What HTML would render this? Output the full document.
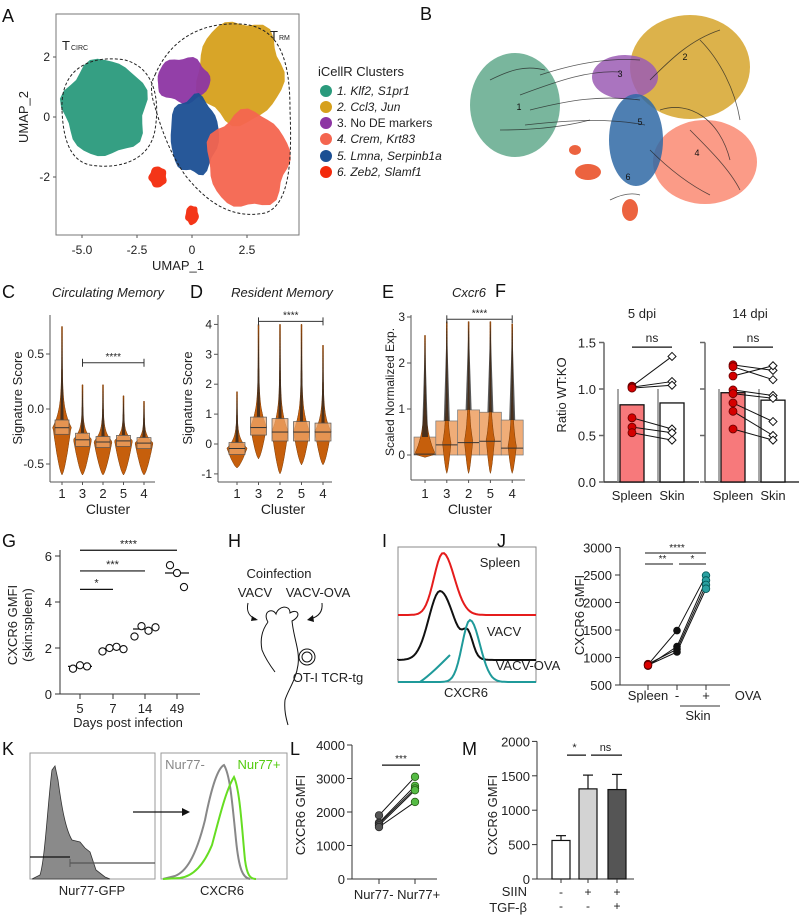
<!DOCTYPE html>
<html><head><meta charset="utf-8"><style>
html,body{margin:0;padding:0;background:#fff;}
svg{display:block;font-family:"Liberation Sans",sans-serif;}
</style></head><body>
<svg id="fig" width="799" height="917" viewBox="0 0 799 917" xmlns="http://www.w3.org/2000/svg"></svg>
<script>
// ---------- DATA ----------
const umapNames=['1. Klf2, S1pr1','2. Ccl3, Jun','3. No DE markers','4. Crem, Krt83','5. Lmna, Serpinb1a','6. Zeb2, Slamf1'];
const umapColors=['#2a9a7c','#d6a01c','#8d35a3','#f4654f','#1b4f93','#f32a0c'];
const blobCluster=[1,2,4,3,0,5,5];
const blobCx=[2.18,-0.4,0.1,2.55,-3.95,-1.55,0.0];
const blobCy=[1.5,1.23,-0.6,-1.43,0.3,-2.0,-3.27];
const blobRx=[1.95,1.2,1.1,1.85,1.9,0.4,0.3];
const blobRy=[1.7,0.75,1.3,1.6,1.6,0.35,0.32];
const umapXTicks=[-5,-2.5,0,2.5];
const umapXLabels=['-5.0','-2.5','0','2.5'];
const umapYTicks=[2,0,-2];
const clusters=['1','3','2','5','4'];
const cMin=[-0.6,-0.6,-0.6,-0.6,-0.6];
const cMax=[0.75,0.22,0.22,0.12,0.07];
const cQ1=[-0.23,-0.34,-0.35,-0.34,-0.36];
const cMed=[-0.17,-0.28,-0.30,-0.29,-0.31];
const cQ3=[-0.10,-0.22,-0.25,-0.24,-0.26];
const cTicks=[0.5,0.0,-0.5];
const cTickLabels=['0.5','0.0','-0.5'];
const dMin=[-0.8,-0.5,-1.0,-0.7,-0.7];
const dMax=[1.75,4.0,4.0,4.0,3.3];
const dQ1=[-0.35,0.3,0.1,0.1,0.1];
const dMed=[-0.15,0.55,0.4,0.4,0.4];
const dQ3=[0.05,0.9,0.85,0.75,0.7];
const dTicks=[4,3,2,1,0,-1];
const eMin=[-0.05,-0.4,-0.4,-0.4,-0.4];
const eMax=[2.6,2.9,2.9,2.9,2.85];
const eMed=[0.02,0.22,0.27,0.3,0.15];
const eQ3=[0.39,0.74,0.98,0.93,0.76];
const eTicks=[3,2,1,0];
const fGroups=['Spleen','Skin'];
const fBar5=[0.83,0.85];
const fBar14=[0.96,0.88];
const fSpleen5=[1.03,1.02,1.01,0.69,0.59,0.53];
const fSkin5=[1.35,1.08,1.04,0.57,0.53,0.45];
const fSpleen14=[1.26,1.24,1.14,0.99,0.95,0.85,0.76,0.57];
const fSkin14=[1.20,1.10,1.25,0.93,0.90,0.65,0.50,0.45];
const fTicks=[1.5,1.0,0.5,0.0];
const fTickLabels=['1.5','1.0','0.5','0.0'];
const gDays=['5','7','14','49'];
const gValues=[[1.1,1.25,1.2],[1.85,2.0,2.05,1.95],[2.5,2.95,2.75,2.9],[5.6,5.26,4.65]];
const gTicks=[6,4,2,0];
const jGroups=['Spleen','-','+'];
const jSpleen=[870,850,880,860];
const jSkinNeg=[1490,1200,1150,1100];
const jSkinPos=[2490,2400,2320,2250];
const jTicks=[3000,2500,2000,1500,1000,500];
const lGroups=['Nur77-','Nur77+'];
const lNeg=[1900,1680,1650,1600,1550];
const lPos=[3050,2780,2700,2650,2300];
const lTicks=[4000,3000,2000,1000,0];
const mBars=[560,1310,1300];
const mErr=[630,1510,1520];
const mTicks=[2000,1500,1000,500,0];
const mSiin=['-','+','+'];
const mTgf=['-','-','+'];

// ---------- HELPERS ----------
const NS='http://www.w3.org/2000/svg';
const svg=document.getElementById('fig');
function mk(tag,attrs,name,parent){
  const el=document.createElementNS(NS,tag);
  for(const k in attrs) el.setAttribute(k,attrs[k]);
  
  
  (parent||svg).appendChild(el);
  return el;
}
function txt(x,y,s,name,o){
  o=o||{};
  const a={x:x,y:y,'font-size':o.size||12,'text-anchor':o.anchor||'middle',fill:o.fill||'#222'};
  if(o.style) a['font-style']=o.style;
  if(o.rot!==undefined) a.transform='rotate('+o.rot+' '+x+' '+y+')';
  const el=mk('text',a,name);
  el.textContent=s;
  return el;
}
function line(x1,y1,x2,y2,name,stroke,w,dash){
  const a={x1:x1,y1:y1,x2:x2,y2:y2,stroke:stroke||'#333','stroke-width':w||1};
  if(dash) a['stroke-dasharray']=dash;
  return mk('line',a,name);
}
function pathD(d,name,attrs){
  const a=Object.assign({d:d},attrs||{});
  return mk('path',a,name);
}
function letter(x,y,s){ txt(x,y,s,'panel-label-'+s.toLowerCase(),{size:18,anchor:'start',fill:'#111'}); }

// ---------- PANEL A ----------
letter(2,22,'A');
const xA=u=>192+u*22, yA=v=>117-v*30;
mk('rect',{x:56,y:14,width:243,height:221,fill:'none',stroke:'#777','stroke-width':1},'umap-plot-frame');
for(let i=0;i<blobCx.length;i++){
  const c=blobCluster[i];
  const cx=xA(blobCx[i]), cy=yA(blobCy[i]), rx=blobRx[i]*22, ry=blobRy[i]*30;
  let d='';
  for(let k=0;k<=36;k++){
    const t=k/36*Math.PI*2;
    const wob=1+0.06*Math.sin(t*5+i)+0.04*Math.cos(t*7+i*2);
    d+=(k?'L':'M')+(cx+Math.cos(t)*rx*wob).toFixed(1)+','+(cy+Math.sin(t)*ry*wob).toFixed(1);
  }
  pathD(d+'Z','umap-cluster-'+(c+1),{fill:umapColors[c],opacity:0.95});
}
pathD('M62,110 C60,65 95,55 125,60 C155,68 160,100 155,130 C150,160 120,170 90,165 C68,160 63,135 62,110Z','tcirc-outline',{fill:'none',stroke:'#222','stroke-dasharray':'3,2','stroke-width':1});
pathD('M155,75 C170,40 200,22 240,24 C280,26 290,60 290,110 C292,160 290,205 265,213 C230,220 205,200 185,175 C168,150 160,125 153,100 C150,88 152,80 155,75Z','trm-outline',{fill:'none',stroke:'#222','stroke-dasharray':'3,2','stroke-width':1});
txt(62,50,'T','tcirc-label',{size:13,anchor:'start'});
txt(71,50,'CIRC','tcirc-subscript',{size:7,anchor:'start'});
txt(270,40,'T','trm-label',{size:13,anchor:'start'});
txt(279,40,'RM','trm-subscript',{size:7,anchor:'start'});
umapXTicks.forEach((t,i)=>{ line(xA(t),235,xA(t),238,'umap-x-tick','#555'); txt(xA(t),254,umapXLabels[i],'umap-x-tick-label',{size:12}); });
umapYTicks.forEach(t=>{ line(53,yA(t),56,yA(t),'umap-y-tick','#555'); txt(50,yA(t)+4,String(t),'umap-y-tick-label',{size:12,anchor:'end'}); });
txt(178,270,'UMAP_1','umap-x-axis-title',{size:13});
txt(28,117,'UMAP_2','umap-y-axis-title',{size:13,rot:-90});
txt(318,76,'iCellR Clusters','legend-title',{size:13,anchor:'start'});
const legY=[91,107,123,139,156,172];
umapNames.forEach((n,i)=>{
  mk('circle',{cx:326,cy:legY[i],r:6,fill:umapColors[i]},'legend-swatch-'+(i+1));
  const t=txt(337,legY[i]+4,n,'legend-entry-'+(i+1),{size:12,anchor:'start'});
  if(i!==2) t.setAttribute('font-style','italic');
});

// ---------- PANEL B ----------
letter(420,20,'B');
const bColors=['#62a98c','#d6a52c','#9b5cb4','#fa8a72','#2f69a5','#e9481d'];
const bBlobs=[[515,105,45,52,0],[690,67,60,52,1],[625,77,33,22,2],[705,162,52,42,3],[636,140,27,46,4],[588,172,13,8,5],[630,210,8,11,5],[575,150,6,5,5]];
bBlobs.forEach((b,i)=>{
  mk('ellipse',{cx:b[0],cy:b[1],rx:b[2],ry:b[3],fill:bColors[b[4]],opacity:0.85},'velocity-cluster-'+(b[4]+1));
});
const streams=['M520,95 C560,80 590,70 620,72','M530,110 C570,100 600,95 640,100','M525,125 C570,120 610,118 645,125','M540,75 C580,62 610,58 640,60','M650,80 C670,60 690,40 720,30','M660,110 C690,100 720,120 730,160','M690,130 C710,150 730,170 740,190','M650,150 C670,170 690,185 710,195','M700,40 C720,60 735,90 740,120','M490,80 C510,70 525,65 545,70','M500,130 C530,130 560,128 590,120','M610,200 C620,195 630,192 640,195'];
streams.forEach((d,i)=>{ pathD(d,'velocity-streamline',{fill:'none',stroke:'#222','stroke-width':0.8,opacity:0.75}); });
['1','3','2','5','4','6'].forEach((s,i)=>{
  const p=[[519,110],[620,77],[685,60],[640,125],[697,156],[628,180]][i];
  txt(p[0],p[1],s,'velocity-cluster-label',{size:9,fill:'#111'});
});

// ---------- VIOLIN HELPER ----------
function violin(cx,ys,vmin,vmax,q1,med,q3,hw,name,dotsHw){
  let left=[],right=[];
  const N=50;
  for(let k=0;k<=N;k++){
    const v=vmin+(vmax-vmin)*k/N;
    let w;
    if(v<=med){ const t=(v-vmin)/Math.max(1e-6,med-vmin); w=hw*Math.pow(t,0.7); }
    else { const t=(vmax-v)/Math.max(1e-6,vmax-med); w=hw*Math.pow(t,6)+0.5; }
    left.push([cx-w,ys(v)]); right.push([cx+w,ys(v)]);
  }
  let d='M'+left.map(p=>p[0].toFixed(1)+','+p[1].toFixed(1)).join('L')+'L'+right.reverse().map(p=>p[0].toFixed(1)+','+p[1].toFixed(1)).join('L')+'Z';
  pathD(d,name+'-violin',{fill:'#c65f0c',stroke:'#7a3a05','stroke-width':0.5});
  const dh=dotsHw||1.6;
  pathD('M'+(cx-dh)+','+ys(q3)+'L'+cx+','+ys(vmax)+'L'+(cx+dh)+','+ys(q3)+'Z',name+'-points',{fill:'#222',opacity:0.75});
}

// ---------- PANEL C ----------
letter(2,298,'C');
txt(108,297,'Circulating Memory','c-title',{size:13,style:'italic'});
const yC=v=>409-v*110, xC=i=>62+i*20.5;
line(50,315,50,482,'c-y-axis','#555'); line(50,482,155,482,'c-x-axis','#555');
cTicks.forEach((t,i)=>{ line(46,yC(t),50,yC(t),'c-y-tick','#555'); txt(44,yC(t)+4,cTickLabels[i],'c-y-tick-label',{size:12,anchor:'end'}); });
clusters.forEach((c,i)=>{
  violin(xC(i),yC,cMin[i],cMax[i],cQ1[i],cMed[i],cQ3[i],9,'c-cluster-'+c);
  mk('rect',{x:xC(i)-7,y:yC(cQ3[i]),width:14,height:yC(cQ1[i])-yC(cQ3[i]),fill:'#efa56a','fill-opacity':0.75,stroke:'#555','stroke-width':0.7},'c-box-'+c);
  line(xC(i)-7,yC(cMed[i]),xC(i)+7,yC(cMed[i]),'c-median-'+c,'#333',1);
  line(xC(i),482,xC(i),485,'c-x-tick','#555');
  txt(xC(i),498,c,'c-x-tick-label',{size:13});
});
txt(108,514,'Cluster','c-x-axis-title',{size:14});
txt(22,398,'Signature Score','c-y-axis-title',{size:13,rot:-90});
line(xC(1),yC(0.42),xC(4),yC(0.42),'c-significance-bar','#333');
line(xC(1),yC(0.42)-4,xC(1),yC(0.42)+4,'c-sig-cap','#333'); line(xC(4),yC(0.42)-4,xC(4),yC(0.42)+4,'c-sig-cap','#333');
txt((xC(1)+xC(4))/2,yC(0.42)-3,'****','c-significance-label',{size:10});

// ---------- PANEL D ----------
letter(190,298,'D');
txt(282,297,'Resident Memory','d-title',{size:13,style:'italic'});
const yD=v=>444-v*29.9, xD=i=>237+i*21.5;
line(218,315,218,482,'d-y-axis','#555'); line(218,482,332,482,'d-x-axis','#555');
dTicks.forEach(t=>{ line(214,yD(t),218,yD(t),'d-y-tick','#555'); txt(212,yD(t)+4,String(t),'d-y-tick-label',{size:12,anchor:'end'}); });
clusters.forEach((c,i)=>{
  violin(xD(i),yD,dMin[i],dMax[i],dQ1[i],dMed[i],dQ3[i],i===0?10:8,'d-cluster-'+c);
  mk('rect',{x:xD(i)-8,y:yD(dQ3[i]),width:16,height:yD(dQ1[i])-yD(dQ3[i]),fill:'#efa56a','fill-opacity':0.75,stroke:'#555','stroke-width':0.7},'d-box-'+c);
  line(xD(i)-8,yD(dMed[i]),xD(i)+8,yD(dMed[i]),'d-median-'+c,'#333',1);
  line(xD(i),482,xD(i),485,'d-x-tick','#555');
  txt(xD(i),498,c,'d-x-tick-label',{size:13});
});
txt(283,514,'Cluster','d-x-axis-title',{size:14});
txt(192,398,'Signature Score','d-y-axis-title',{size:13,rot:-90});
line(xD(1),yD(4.1),xD(4),yD(4.1),'d-significance-bar','#333');
line(xD(1),yD(4.1)-4,xD(1),yD(4.1)+4,'d-sig-cap','#333'); line(xD(4),yD(4.1)-4,xD(4),yD(4.1)+4,'d-sig-cap','#333');
txt((xD(1)+xD(4))/2,yD(4.1)-3,'****','d-significance-label',{size:10});

// ---------- PANEL E ----------
letter(382,298,'E');
txt(469,297,'Cxcr6','e-title',{size:13,style:'italic'});
const yE=v=>455-v*46, xE=i=>425+i*21.8;
line(411,315,411,480,'e-y-axis','#555'); line(411,480,525,480,'e-x-axis','#555');
eTicks.forEach(t=>{ line(407,yE(t),411,yE(t),'e-y-tick','#555'); txt(405,yE(t)+4,String(t),'e-y-tick-label',{size:12,anchor:'end'}); });
clusters.forEach((c,i)=>{
  mk('rect',{x:xE(i)-11,y:yE(eQ3[i]),width:22,height:yE(0)-yE(eQ3[i]),fill:'#f0ad78',stroke:'#777','stroke-width':0.7},'e-box-'+c);
  violin(xE(i),yE,eMin[i],eMax[i],0,eMed[i],eQ3[i],i===0?10:4,'e-cluster-'+c,3);
  line(xE(i)-11,yE(eMed[i]),xE(i)+11,yE(eMed[i]),'e-median-'+c,'#333',1);
  line(xE(i),480,xE(i),483,'e-x-tick','#555');
  txt(xE(i),498,c,'e-x-tick-label',{size:13});
});
txt(470,514,'Cluster','e-x-axis-title',{size:14});
txt(394,392,'Scaled Normalized Exp.','e-y-axis-title',{size:12,rot:-90});
line(xE(1),yE(2.95),xE(4),yE(2.95),'e-significance-bar','#333');
line(xE(1),yE(2.95)-4,xE(1),yE(2.95)+4,'e-sig-cap','#333'); line(xE(4),yE(2.95)-4,xE(4),yE(2.95)+4,'e-sig-cap','#333');
txt((xE(1)+xE(4))/2,yE(2.95)-3,'****','e-significance-label',{size:10});

// ---------- PANEL F ----------
letter(495,297,'F');
const yF=v=>482-v*93;
function fPanel(ax,bars,sp,sk,label,title,tx){
  const xs=[ax+28,ax+68];
  line(ax,yF(1.5),ax,yF(0),label+'-y-axis','#666',1.5);
  line(ax,yF(0),ax+95,yF(0),label+'-x-axis','#333',1.5);
  fTicks.forEach((t,i)=>{ line(ax-5,yF(t),ax,yF(t),label+'-y-tick','#666',1.5); });
  bars.forEach((b,i)=>{
    mk('rect',{x:xs[i]-12,y:yF(b),width:24,height:yF(0)-yF(b),fill:i===0?'#f7797b':'#fff',stroke:'#111','stroke-width':1.3},label+'-bar-'+fGroups[i].toLowerCase());
    txt(xs[i],500,fGroups[i],label+'-x-tick-label',{size:13});
  });
  line(ax+14,yF(0),ax+14,yF(1.0),label+'-gray-edge','#888',1.5);
  line(ax+54,yF(0),ax+54,yF(1.0),label+'-gray-edge','#888',1.5);
  sp.forEach((v,i)=>{ line(xs[0],yF(v),xs[1],yF(sk[i]),label+'-pair-line','#111',1); });
  sp.forEach(v=>{ mk('circle',{cx:xs[0],cy:yF(v),r:4,fill:'#d40000',stroke:'#600','stroke-width':0.8},label+'-spleen-point'); });
  sk.forEach(v=>{ const cx=xs[1],cy=yF(v); mk('path',{d:'M'+cx+','+(cy-4)+'L'+(cx+4)+','+cy+'L'+cx+','+(cy+4)+'L'+(cx-4)+','+cy+'Z',fill:'#fff',stroke:'#111','stroke-width':1},label+'-skin-point'); });
  line(xs[0],yF(1.45),xs[1],yF(1.45),label+'-significance-bar','#111',1.2);
  txt((xs[0]+xs[1])/2,yF(1.45)-5,'ns',label+'-significance-label',{size:12});
  txt(tx,318,title,label+'-title',{size:13});
}
fPanel(604,fBar5,fSpleen5,fSkin5,'f-5dpi','5 dpi',642);
fPanel(705,fBar14,fSpleen14,fSkin14,'f-14dpi','14 dpi',750);
fTicks.forEach((t,i)=>{ txt(596,yF(t)+5,fTickLabels[i],'f-y-tick-label',{size:13,anchor:'end'}); });
txt(566,395,'Ratio WT:KO','f-y-axis-title',{size:13,rot:-90});

// ---------- PANEL G ----------
letter(2,547,'G');
const yG=v=>694-v*23, xGpos=[80,113,145,177];
line(60,550,60,694,'g-y-axis','#333'); line(60,694,200,694,'g-x-axis','#333');
gTicks.forEach(t=>{ line(55,yG(t),60,yG(t),'g-y-tick','#333'); txt(52,yG(t)+5,String(t),'g-y-tick-label',{size:13,anchor:'end'}); });
gDays.forEach((d,i)=>{
  line(xGpos[i],694,xGpos[i],699,'g-x-tick','#333');
  txt(xGpos[i],713,d,'g-x-tick-label',{size:13});
  const vals=gValues[i]; const n=vals.length;
  const sorted=vals.slice().sort((a,b)=>a-b); const med=n%2?sorted[(n-1)/2]:(sorted[n/2-1]+sorted[n/2])/2;
  line(xGpos[i]-12,yG(med),xGpos[i]+12,yG(med),'g-median-'+d,'#111',1.2);
  vals.forEach((v,k)=>{ mk('circle',{cx:xGpos[i]+(k-(n-1)/2)*7,cy:yG(v),r:3.6,fill:'#fff',stroke:'#111','stroke-width':1.1},'g-point-day'+d); });
});
[[1,4.55,'*'],[2,5.35,'***'],[3,6.25,'****']].forEach(s=>{
  line(xGpos[0],yG(s[1]),xGpos[s[0]],yG(s[1]),'g-significance-bar','#111',1.2);
  txt((xGpos[0]+xGpos[s[0]])/2,yG(s[1])-3,s[2],'g-significance-label',{size:11});
});
txt(128,727,'Days post infection','g-x-axis-title',{size:13});
txt(17,625,'CXCR6 GMFI','g-y-axis-title',{size:13,rot:-90});
txt(32,625,'(skin:spleen)','g-y-axis-subtitle',{size:13,rot:-90});

// ---------- PANEL H ----------
letter(228,547,'H');
txt(279,578,'Coinfection','h-coinfection-label',{size:13});
txt(255,597,'VACV','h-vacv-label',{size:13});
txt(318,597,'VACV-OVA','h-vacv-ova-label',{size:13});
pathD('M248,603 C246,612 250,617 256,619','h-arrow-left',{fill:'none',stroke:'#111','stroke-width':1});
pathD('M252,616 L258,620 L251,621Z','h-arrowhead-left',{fill:'#111'});
pathD('M322,603 C323,612 318,617 310,619','h-arrow-right',{fill:'none',stroke:'#111','stroke-width':1});
pathD('M313,615 L307,620 L314,622Z','h-arrowhead-right',{fill:'#111'});
pathD('M268,622 C262,612 272,607 276,614 C278,606 290,604 290,613 C298,608 302,616 292,621 C294,640 300,650 298,665 C296,680 288,690 285,700 C284,710 286,718 288,725 M268,622 C262,630 260,640 262,650 C266,660 272,668 275,672','mouse-outline',{fill:'none',stroke:'#111','stroke-width':1});
mk('circle',{cx:307,cy:657,r:8,fill:'none',stroke:'#111','stroke-width':1},'ot1-cell-outer');
mk('circle',{cx:307,cy:657,r:5,fill:'none',stroke:'#111','stroke-width':1},'ot1-cell-inner');
txt(328,682,'OT-I TCR-tg','h-ot1-label',{size:13});

// ---------- PANEL I ----------
letter(382,547,'I');
mk('rect',{x:398,y:547,width:138,height:135,fill:'#fff',stroke:'#888','stroke-width':1},'i-histogram-frame');
function hist(base,peak,px,w,color,name,sh){
  let d='M398,'+base;
  for(let x=398;x<=536;x+=2){
    const dx=(x-px)/w;
    let h=Math.exp(-dx*dx*(dx<0?1.6:1.0));
    if(sh) h+=sh*Math.exp(-Math.pow((x-px-28)/7,2));
    d+='L'+x+','+(base-(base-peak)*h).toFixed(1);
  }
  pathD(d,name,{fill:'none',stroke:color,'stroke-width':2});
}
hist(615,553,443,16,'#e51c1c','i-spleen-histogram');
hist(660,591,440,20,'#111','i-vacv-histogram',0.3);
hist(682,620,470,14,'#1f9a9a','i-vacv-ova-histogram');
pathD('M398,682 L420,682 C430,675 440,665 450,655','i-vacv-ova-shoulder',{fill:'none',stroke:'#1f9a9a','stroke-width':2});
txt(500,567,'Spleen','i-spleen-label',{size:13});
txt(504,636,'VACV','i-vacv-label',{size:13});
txt(528,670,'VACV-OVA','i-vacv-ova-label',{size:13});
txt(466,697,'CXCR6','i-x-axis-title',{size:13});

// ---------- PANEL J ----------
letter(497,547,'J');
const yJ=v=>685-(v-500)*0.055, xJ=[648,677,706];
line(620,yJ(3000),620,685,'j-y-axis','#333'); line(620,685,730,685,'j-x-axis','#333');
jTicks.forEach(t=>{ line(615,yJ(t),620,yJ(t),'j-y-tick','#333'); txt(612,yJ(t)+5,String(t),'j-y-tick-label',{size:13,anchor:'end'}); });
jSpleen.forEach((v,i)=>{ line(xJ[0],yJ(v),xJ[1],yJ(jSkinNeg[i]),'j-pair-line','#111',1); line(xJ[1],yJ(jSkinNeg[i]),xJ[2],yJ(jSkinPos[i]),'j-pair-line','#111',1); });
jSpleen.forEach(v=>mk('circle',{cx:xJ[0],cy:yJ(v),r:3.8,fill:'#d00',stroke:'#500','stroke-width':0.8},'j-spleen-point'));
jSkinNeg.forEach(v=>mk('circle',{cx:xJ[1],cy:yJ(v),r:3.8,fill:'#111'},'j-skin-neg-point'));
jSkinPos.forEach(v=>mk('circle',{cx:xJ[2],cy:yJ(v),r:3.8,fill:'#2aa0a0',stroke:'#055','stroke-width':0.8},'j-skin-pos-point'));
jGroups.forEach((g,i)=>{ line(xJ[i],685,xJ[i],690,'j-x-tick','#333'); txt(xJ[i],700,g,'j-x-tick-label',{size:13}); });
txt(748,700,'OVA','j-ova-label',{size:13});
line(680,706,720,706,'j-skin-bracket','#333');
txt(698,720,'Skin','j-skin-label',{size:13});
line(xJ[0]-3,yJ(2900),xJ[2],yJ(2900),'j-significance-bar','#111'); txt((xJ[0]+xJ[2])/2,yJ(2900)-2,'****','j-significance-label',{size:10});
line(xJ[0]-3,yJ(2700),xJ[1]-4,yJ(2700),'j-significance-bar','#111'); txt((xJ[0]+xJ[1])/2,yJ(2700)-2,'**','j-significance-label',{size:10});
line(xJ[1]+2,yJ(2700),xJ[2],yJ(2700),'j-significance-bar','#111'); txt((xJ[1]+xJ[2])/2+1,yJ(2700)-2,'*','j-significance-label',{size:10});
txt(584,615,'CXCR6 GMFI','j-y-axis-title',{size:13,rot:-90});

// ---------- PANEL K ----------
letter(2,755,'K');
mk('rect',{x:30,y:753,width:125,height:126,fill:'#fff',stroke:'#999','stroke-width':1},'k-left-frame');
mk('rect',{x:161,y:753,width:126,height:126,fill:'#fff',stroke:'#999','stroke-width':1},'k-right-frame');
pathD('M32,879 L40,875 C45,860 48,800 52,770 L55,766 L58,780 C62,810 66,830 72,840 L80,842 L85,848 L90,852 L96,870 L105,877 L110,879Z','k-nur77-gfp-histogram',{fill:'#8a8a8a',stroke:'#333','stroke-width':0.8});
line(30,857,70,857,'k-gate-negative','#111',1.2);
line(70,863,155,863,'k-gate-positive','#555',1.2);
line(70,859,70,867,'k-gate-cap','#555',1);
line(133,812,182,812,'k-arrow','#111',1.2);
pathD('M182,808 L190,812 L182,816Z','k-arrowhead',{fill:'#111'});
pathD('M163,879 L175,876 C185,872 195,860 205,820 C212,785 218,768 224,765 C230,775 232,800 236,840 C239,870 243,878 250,879','k-nur77-neg-histogram',{fill:'none',stroke:'#888','stroke-width':2});
pathD('M163,879 L180,878 C195,876 205,862 212,845 C220,815 226,790 234,777 C240,790 242,830 245,860 C247,875 250,879 256,879','k-nur77-pos-histogram',{fill:'none',stroke:'#66dd22','stroke-width':2});
txt(185,769,'Nur77-','k-nur77-neg-label',{size:13,fill:'#888'});
txt(259,769,'Nur77+','k-nur77-pos-label',{size:13,fill:'#55cc11'});
txt(92,895,'Nur77-GFP','k-left-x-axis-title',{size:13});
txt(222,895,'CXCR6','k-right-x-axis-title',{size:13});

// ---------- PANEL L ----------
letter(290,755,'L');
const yL=v=>879-v*0.0335, xL=[379,415];
line(352,yL(4000),352,879,'l-y-axis','#333'); line(352,879,437,879,'l-x-axis','#333');
lTicks.forEach(t=>{ line(347,yL(t),352,yL(t),'l-y-tick','#333'); txt(345,yL(t)+5,String(t),'l-y-tick-label',{size:13,anchor:'end'}); });
lNeg.forEach((v,i)=>line(xL[0],yL(v),xL[1],yL(lPos[i]),'l-pair-line','#111',1));
lNeg.forEach(v=>mk('circle',{cx:xL[0],cy:yL(v),r:3.8,fill:'#555',stroke:'#222','stroke-width':0.7},'l-nur77-neg-point'));
lPos.forEach(v=>mk('circle',{cx:xL[1],cy:yL(v),r:3.8,fill:'#55bb44',stroke:'#225511','stroke-width':0.7},'l-nur77-pos-point'));
lGroups.forEach((g,i)=>{ line(xL[i],879,xL[i],884,'l-x-tick','#333'); });
txt(397,899,'Nur77- Nur77+','l-x-tick-labels',{size:13});
line(382,yL(3400),420,yL(3400),'l-significance-bar','#111',1.2);
txt(401,yL(3400)-3,'***','l-significance-label',{size:10});
txt(305,815,'CXCR6 GMFI','l-y-axis-title',{size:13,rot:-90});

// ---------- PANEL M ----------
letter(462,755,'M');
const yM=v=>879-v*0.0688, xM=[561,588,617], mFill=['#fff','#d3d3d3','#555'];
line(537,yM(2000),537,879,'m-y-axis','#333'); line(537,879,634,879,'m-x-axis','#333');
mTicks.forEach(t=>{ line(532,yM(t),537,yM(t),'m-y-tick','#333'); txt(530,yM(t)+5,String(t),'m-y-tick-label',{size:13,anchor:'end'}); });
mBars.forEach((v,i)=>{
  line(xM[i],yM(v),xM[i],yM(mErr[i]),'m-error-bar','#111',1.2);
  line(xM[i]-5,yM(mErr[i]),xM[i]+5,yM(mErr[i]),'m-error-cap','#111',1.2);
  mk('rect',{x:xM[i]-9,y:yM(v),width:18,height:879-yM(v),fill:mFill[i],stroke:'#111','stroke-width':1.2},'m-bar-'+(i+1));
  line(xM[i],879,xM[i],883,'m-x-tick','#333');
  txt(xM[i],896,mSiin[i],'m-siin-value',{size:12});
  txt(xM[i],910,mTgf[i],'m-tgf-value',{size:12});
});
txt(527,896,'SIIN','m-siin-label',{size:13,anchor:'end'});
txt(527,912,'TGF-β','m-tgf-label',{size:13,anchor:'end'});
line(xM[0]+6,yM(1800),xM[1]-2,yM(1800),'m-significance-bar','#111',1.2); txt((xM[0]+xM[1])/2,yM(1800)-4,'*','m-significance-label',{size:11});
line(xM[1]+3,yM(1800),xM[2]+5,yM(1800),'m-significance-bar','#111',1.2); txt((xM[1]+xM[2])/2+3,yM(1800)-4,'ns','m-significance-label',{size:11});
txt(497,815,'CXCR6 GMFI','m-y-axis-title',{size:13,rot:-90});
</script>
</body></html>
